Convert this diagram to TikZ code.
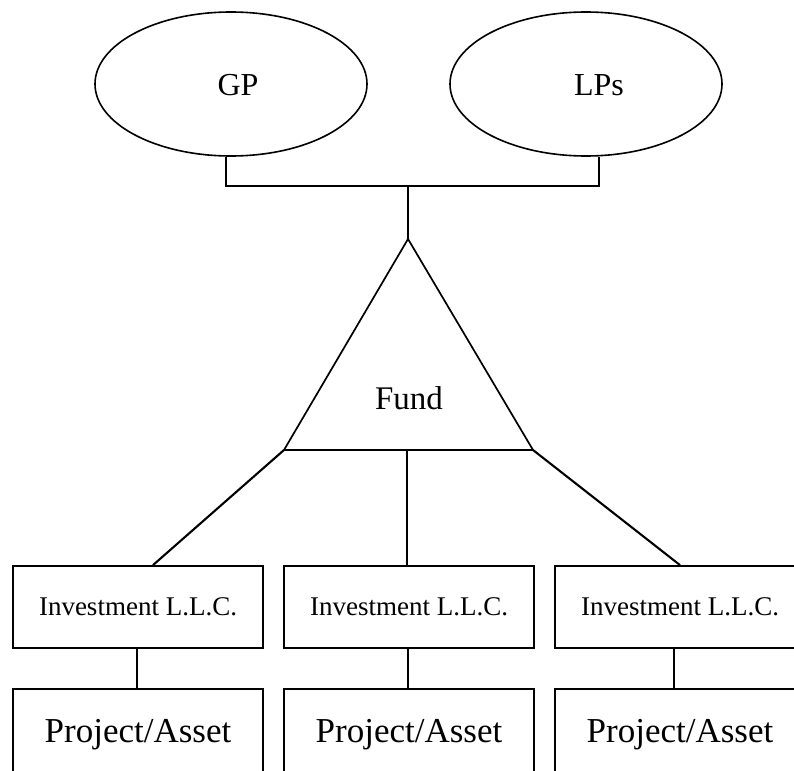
\documentclass[tikz,border=0pt]{standalone}
\usepackage{fontspec}
\setmainfont{Liberation Serif}
\usetikzlibrary{shapes.geometric}
\begin{document}
\begin{tikzpicture}[x=1pt,y=-1pt,
  oval/.style={draw,ellipse,line width=1.6pt,minimum width=272pt,minimum height=144pt,inner sep=0pt},
  txt/.style={anchor=base,inner sep=0pt,font=\fontsize{32}{36}\selectfont},
  invbox/.style={draw,rectangle,line width=1.8pt,minimum width=250pt,minimum height=82pt,inner sep=0pt,
    font=\fontsize{27}{32}\selectfont},
  projbox/.style={draw,rectangle,line width=1.8pt,minimum width=250pt,minimum height=84pt,inner sep=0pt,
    text depth=0pt,font=\fontsize{35}{40}\selectfont},
  link/.style={line width=2.6pt},
  thinlink/.style={line width=2.1pt},
  tri/.style={line width=1.7pt,line join=miter}]
\useasboundingbox (0,0) rectangle (794,770);
\clip (0,0) rectangle (794,770);
% top ellipses
\node[oval] (gp) at (231,84) {};
\node[oval] (lps) at (586,84) {};
\node[txt] (gptext) at (238,96) {GP};
\node[txt] (lpstext) at (599,96) {LPs};
% fund triangle
\coordinate (apex) at (408,239);
\coordinate (bl) at (284,450);
\coordinate (br) at (533,450);
\coordinate (bm) at (407,450);
\draw[tri] (apex) -- (bl) -- (br) -- cycle;
\node[txt,font=\fontsize{33}{38}\selectfont] (fund) at (409,409) {Fund};
% junction
\coordinate (j) at (408,186);
\draw[thinlink] ([xshift=-5pt]gp.south) |- (j) -| ([xshift=13pt]lps.south);
\draw[thinlink] (j) -- (apex);
% investment boxes
\node[invbox] (inv1) at (138,607) {Investment L.L.C.};
\node[invbox] (inv2) at (409,607) {Investment L.L.C.};
\node[invbox] (inv3) at (680,607) {Investment L.L.C.};
% project boxes
\node[projbox] (proj1) at (138,731) {Project/Asset};
\node[projbox] (proj2) at (409,731) {Project/Asset};
\node[projbox] (proj3) at (680,731) {Project/Asset};
% connectors from fund
\draw[thinlink] (bl) -- ([xshift=15pt]inv1.north);
\draw[link] (bm) -- ([xshift=-2pt]inv2.north);
\draw[thinlink] (br) -- (inv3.north);
% connectors to projects
\draw[link] ([xshift=-1pt]inv1.south) -- ([xshift=-1pt]proj1.north);
\draw[link] ([xshift=-1pt]inv2.south) -- ([xshift=-1pt]proj2.north);
\draw[link] ([xshift=-6pt]inv3.south) -- ([xshift=-6pt]proj3.north);
\end{tikzpicture}
\end{document}
